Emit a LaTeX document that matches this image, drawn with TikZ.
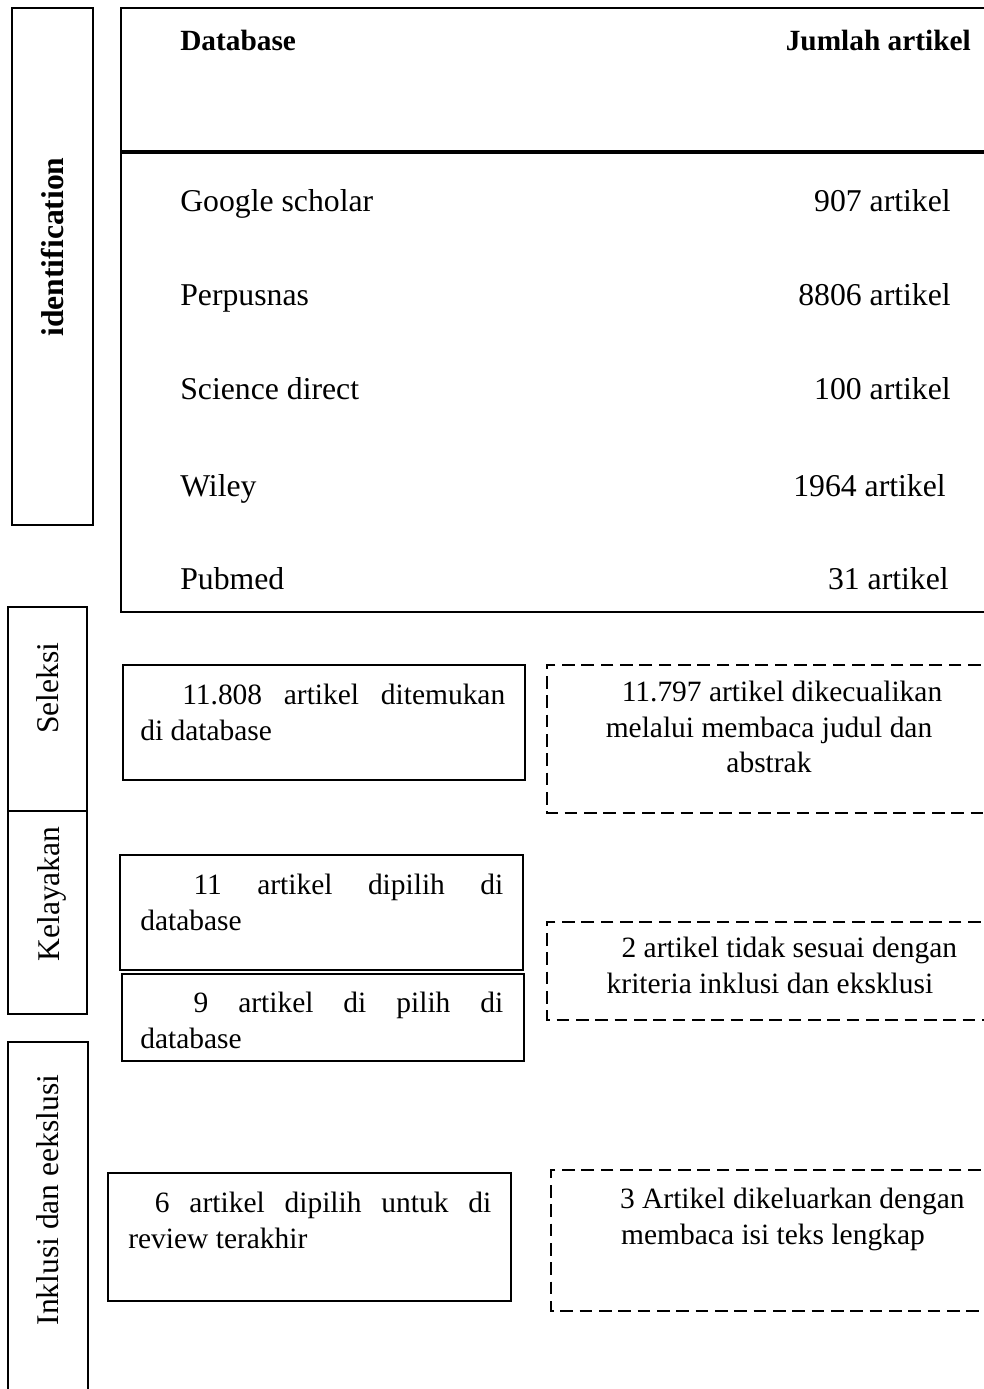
\documentclass[tikz,border=0pt]{standalone}
\usepackage{fontspec}
\setmainfont{Liberation Serif}
\usepackage{tikz}
\hyphenpenalty=10000
\exhyphenpenalty=10000

\begin{document}
\begin{tikzpicture}[x=0.75pt,y=0.75pt,yscale=-1,xscale=1,
    tabletext/.style={font=\fontsize{23.8}{28}\selectfont, inner sep=0pt},
    headtext/.style={font=\fontsize{22}{26}\selectfont\bfseries, inner sep=0pt},
    sidetext/.style={font=\fontsize{23.7}{28}\selectfont, inner sep=0pt, rotate=90, anchor=base},
    boxtext/.style={font=\fontsize{22.1}{26.5}\selectfont, inner sep=0pt, anchor=north west, text width=#1, align=justify},
    dashtext/.style={font=\fontsize{22.1}{26.5}\selectfont, inner sep=0pt, anchor=north, align=center},
    dashbox/.style={line width=1.5, dash pattern={on 9.5pt off 5pt}}]
%set diagram size 984 x 1389
\path [use as bounding box] (0,0) rectangle (984,1389);
\clip (0,0) rectangle (984,1389);

%Shape: Rectangle [identification]
\draw [line width=1.5] (12,8) -- (93,8) -- (93,525) -- (12,525) -- cycle ;
%Shape: Table frame
\draw [line width=1.5] (1000,8) -- (121,8) -- (121,612) -- (1000,612) ;
\draw [line width=2.5] (121,152) -- (1000,152) ;

%Shape: Rectangle [Seleksi]
\draw [line width=1.5] (8,607) -- (87,607) -- (87,811) -- (8,811) -- cycle ;
%Shape: Rectangle [Kelayakan]
\draw [line width=1.5] (8,811) -- (87,811) -- (87,1014) -- (8,1014) -- cycle ;
%Shape: Rectangle [Inklusi]
\draw [line width=1.5] (8,1400) -- (8,1042) -- (88,1042) -- (88,1400) ;

%Shape: Rectangle
\draw [line width=1.5] (123,665) -- (525,665) -- (525,780) -- (123,780) -- cycle ;
%Shape: Rectangle
\draw [line width=1.5] (120,855) -- (523,855) -- (523,970) -- (120,970) -- cycle ;
%Shape: Rectangle
\draw [line width=1.5] (122,974) -- (524,974) -- (524,1061) -- (122,1061) -- cycle ;
%Shape: Rectangle
\draw [line width=1.5] (108,1173) -- (511,1173) -- (511,1301) -- (108,1301) -- cycle ;

%Shape: Rectangle dashed
\draw [dashbox] (1000,665) -- (547,665) -- (547,813) -- (1000,813) ;
%Shape: Rectangle dashed
\draw [dashbox] (1000,922) -- (547,922) -- (547,1020) -- (1000,1020) ;
%Shape: Rectangle dashed
\draw [dashbox] (1000,1170) -- (551,1170) -- (551,1311) -- (1000,1311) ;

% Text Node
\node [sidetext] (ident) at (63,247) {\bfseries identification};
% Text Node
\node [sidetext] (seleksi) at (58,688) {Seleksi};
% Text Node
\node [sidetext] (kelayakan) at (59,894) {Kelayakan};
% Text Node
\node [sidetext] (inklusi) at (58,1200) {Inklusi dan eekslusi};

% Text Node
\node [headtext, anchor=base west] (dbhead) at (180,50) {Database};
% Text Node
\node [headtext, anchor=base east] (jmlhead) at (971,50) {Jumlah artikel};
% Text Node
\node [tabletext, anchor=base west] (google) at (180,211) {Google scholar};
\node [tabletext, anchor=base east] (googlen) at (951,211) {907 artikel};
% Text Node
\node [tabletext, anchor=base west] (perpus) at (180,305) {Perpusnas};
\node [tabletext, anchor=base east] (perpusn) at (951,305) {8806 artikel};
% Text Node
\node [tabletext, anchor=base west] (science) at (180,399) {Science direct};
\node [tabletext, anchor=base east] (sciencen) at (951,399) {100 artikel};
% Text Node
\node [tabletext, anchor=base west] (wiley) at (180,496) {Wiley};
\node [tabletext, anchor=base east] (wileyn) at (946,496) {1964 artikel};
% Text Node
\node [tabletext, anchor=base west] (pubmed) at (180,589) {Pubmed};
\node [tabletext, anchor=base east] (pubmedn) at (949,589) {31 artikel};

% Text Node
\node [boxtext=273.75pt] (found) at (140,684) {\hspace*{31.5pt}11.808 artikel ditemukan\linebreak di database};
% Text Node
\node [boxtext=272.25pt] (pilih) at (140,874) {\hspace*{40pt}11 artikel dipilih di\linebreak database};
% Text Node
\node [boxtext=272.25pt] (pilihb) at (140,992) {\hspace*{40pt}9 artikel di pilih di\linebreak database};
% Text Node
\node [boxtext=272.25pt] (review) at (128,1192) {\hspace*{20pt}6 artikel dipilih untuk di\linebreak review terakhir};

% Text Node
\node [dashtext] (excl) at (769,681) {\hspace*{19.5pt}11.797 artikel dikecualikan\\melalui membaca judul dan\\abstrak};
% Text Node
\node [dashtext] (tidak) at (770,937) {\hspace*{29pt}2 artikel tidak sesuai dengan\\kriteria inklusi dan eksklusi};
% Text Node
\node [dashtext] (keluar) at (773,1188) {\hspace*{29pt}3 Artikel dikeluarkan dengan\\membaca isi teks lengkap};

\end{tikzpicture}
\end{document}
